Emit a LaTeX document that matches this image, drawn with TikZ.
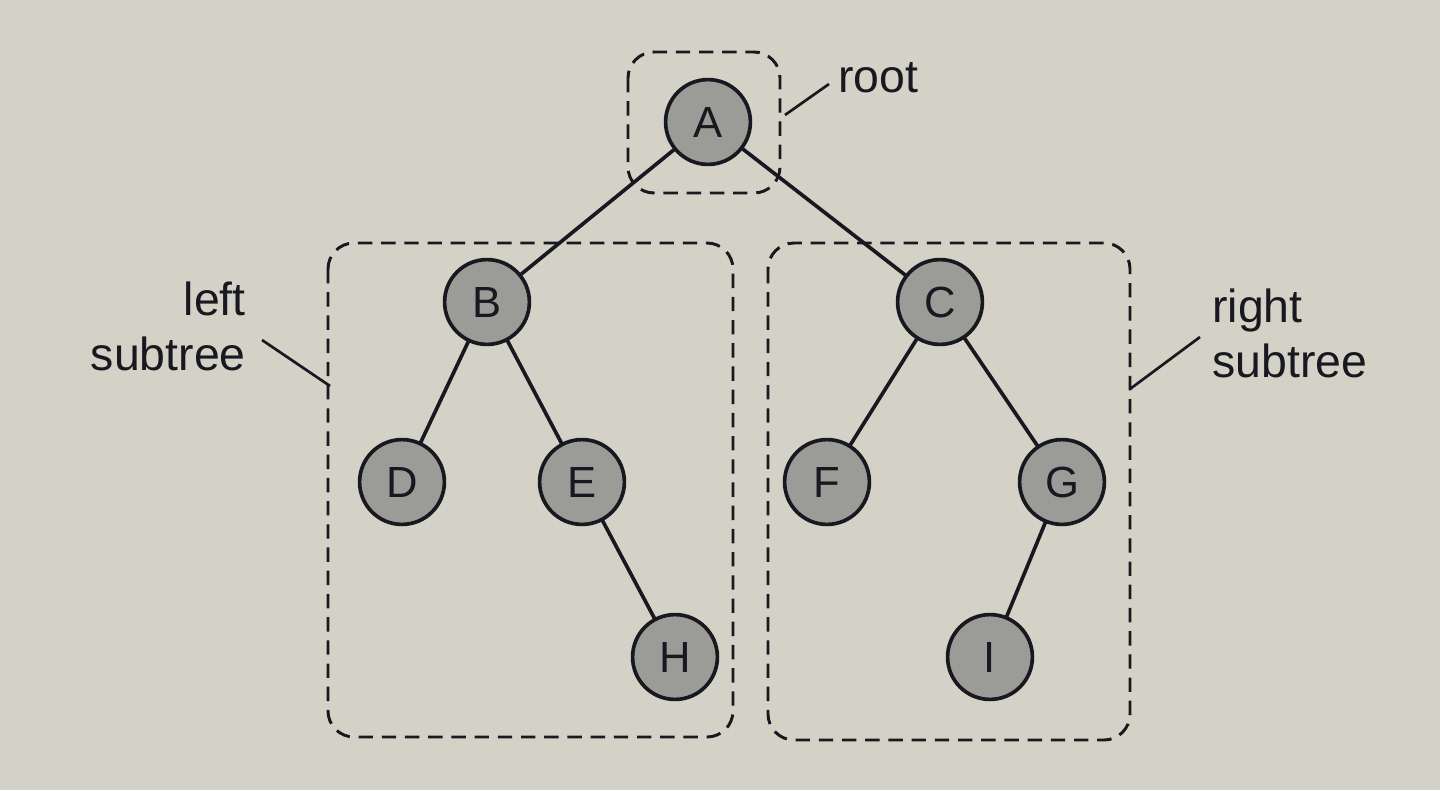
\documentclass[tikz,border=0pt]{standalone}
\usepackage{fontspec}
\setmainfont{Liberation Sans}
\usetikzlibrary{positioning}

\definecolor{paper}{RGB}{212,210,198}
\definecolor{nodegray}{RGB}{155,155,152}
\definecolor{ink}{RGB}{24,24,32}

\begin{document}
\begin{tikzpicture}[x=0.025cm,y=-0.025cm,
  vertex/.style={circle,draw=ink,line width=2.6pt,fill=nodegray,minimum size=2.12cm,inner sep=0pt,
    font=\fontsize{31}{31}\selectfont,text=ink},
  subtreebox/.style={draw=ink,dashed,dash pattern=on 0.36cm off 0.22cm,line width=2.1pt,rounded corners=0.65cm},
  pointer/.style={draw=ink,line width=1.9pt},
  caption/.style={font=\fontsize{33}{39}\selectfont,text=ink,inner sep=0pt}]
  \useasboundingbox[fill=paper] (0,0) rectangle (1440,790);
%dashed boxes
  \draw[subtreebox] (628,52) rectangle (780,193);
  \draw[subtreebox] (328,243) rectangle (733,737);
  \draw[subtreebox] (768,243) rectangle (1130,740);
%edges first, nodes on top
  \coordinate (a) at (708,122);
  \coordinate (b) at (487,302);
  \coordinate (c) at (940,302);
  \coordinate (d) at (402,482);
  \coordinate (e) at (582,482);
  \coordinate (f) at (827,482);
  \coordinate (g) at (1062,482);
  \coordinate (h) at (675,657);
  \coordinate (i) at (990,657);
  \foreach \from/\to in {a/b,a/c,b/d,b/e,e/h,c/f,c/g,g/i}
    \draw[ink,line width=2.6pt] (\from) -- (\to);
  \foreach \n/\lbl in {a/A,b/B,c/C,d/D,e/E,f/F,g/G,h/H,i/I}
    \node[vertex] (\n node) at (\n) {\lbl};
%labels
  \node[caption,anchor=center] (rootlbl) at (878,78) {root};
  \coordinate (roottip) at (785,115);
  \coordinate (rootend) at (829,84);
  \draw[pointer] (roottip) -- (rootend);
  \node[caption,align=right,anchor=east] (leftlbl) at (246,326) {left\\subtree};
  \coordinate (lefttip) at (330,386);
  \coordinate (leftend) at (262,340);
  \draw[pointer] (lefttip) -- (leftend);
  \node[caption,align=left,anchor=west] (rightlbl) at (1212,333) {right\\subtree};
  \coordinate (righttip) at (1130,389);
  \coordinate (rightend) at (1200,337);
  \draw[pointer] (righttip) -- (rightend);
\end{tikzpicture}
\end{document}
